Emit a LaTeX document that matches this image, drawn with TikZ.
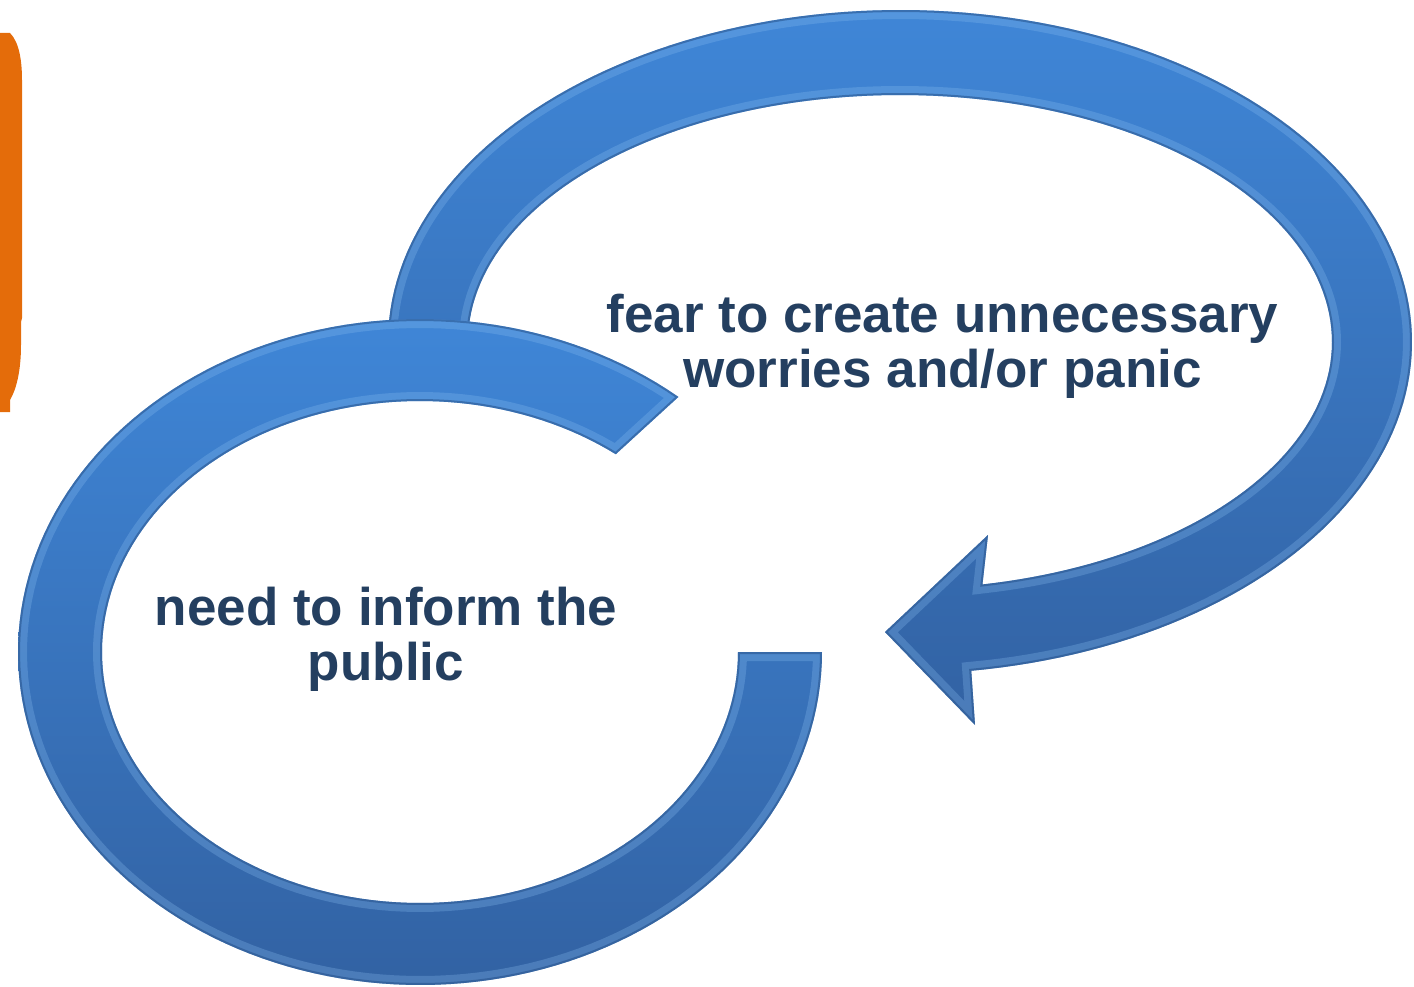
\documentclass[tikz,border=0pt]{standalone}
\usepackage{fontspec}
\setmainfont{Liberation Sans}
\definecolor{ringtop}{HTML}{3F86D7}
\definecolor{ringbot}{HTML}{3262A3}
\definecolor{rimlight}{HTML}{8CC0F2}
\definecolor{rimdark}{HTML}{24508A}
\definecolor{txtblue}{HTML}{243F60}
\definecolor{orng}{HTML}{E46C0A}
\newcommand\ringApath{plot[domain=-50:-360,samples=160,variable=\t]({420+402*cos(\t)},{652+333*sin(\t)}) -- plot[domain=-360:-52,samples=160,variable=\t]({420+318*cos(\t)},{652+251*sin(\t)}) -- cycle}
\newcommand\ringBpath{plot[domain=172:442,samples=160,variable=\t]({900+512*cos(\t)},{342+332*sin(\t)}) -- (975,725) -- (885,632) -- (988,535) -- plot[domain=439:172,samples=160,variable=\t]({900+432*cos(\t)},{342+247*sin(\t)}) -- cycle}
\tikzset{
  ringfill/.style={top color=ringtop, bottom color=ringbot},
  rimhi/.style={line width=18, draw=rimlight, opacity=0.28},
  rimlo/.style={line width=4, draw=rimdark, opacity=0.55},
  lbl/.style={font=\fontsize{53}{55}\selectfont\bfseries, text=txtblue, inner sep=0pt, anchor=base}
}
\begin{document}
\begin{tikzpicture}[x=1pt,y=-1pt]
\useasboundingbox (0,0) rectangle (1414,987);
% orange edge shape
\fill[orng] (0,33) -- (10,33) .. controls (19,42) and (22,60) .. (22,80) -- (22,318) -- (21,322) -- (21,345) .. controls (21,372) and (16,390) .. (10,400) -- (10,412) -- (0,412) -- cycle;
% big ring with arrowhead
\shade[ringfill] \ringBpath;
\begin{scope}
  \clip \ringBpath;
  \draw[rimhi] \ringBpath;
  \draw[rimlo] \ringBpath;
\end{scope}
% small ring
\shade[ringfill] \ringApath;
\begin{scope}
  \clip \ringApath;
  \draw[rimhi] \ringApath;
  \draw[rimlo] \ringApath;
\end{scope}
% texts
\node[lbl] (fear1) at (942.5,332) {fear to create unnecessary};
\node[lbl] (fear2) at (942.5,387) {worries and/or panic};
\node[lbl] (need1) at (386,625) {need to inform the};
\node[lbl] (need2) at (386,680) {public};
\end{tikzpicture}
\end{document}
